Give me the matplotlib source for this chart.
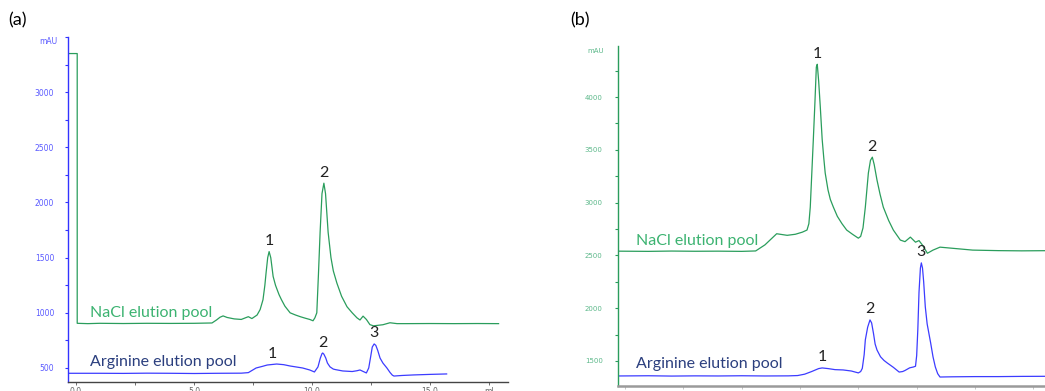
import matplotlib
matplotlib.use("Agg")
import matplotlib.pyplot as plt
from matplotlib.ticker import MultipleLocator, FixedLocator

# ---------------- data: panel (a) ----------------
a_nacl_ml = [-0.34, 0.05, 0.05, 0.5, 1.0, 2.0, 3.0, 4.0, 5.0, 5.76, 5.95, 6.1, 6.23, 6.4, 6.7,
             7.0, 7.3, 7.45, 7.67, 7.8, 7.92, 8.0, 8.05, 8.12, 8.18, 8.25, 8.35, 8.45, 8.52,
             8.6, 8.7, 8.85, 9.07, 9.3, 9.5, 9.7, 9.9, 10.04, 10.12, 10.2, 10.27, 10.34,
             10.42, 10.5, 10.57, 10.68, 10.8, 10.9, 11.05, 11.25, 11.48, 11.7, 11.9, 12.03,
             12.16, 12.3, 12.45, 12.6, 13.0, 13.3, 13.6, 14.0, 15.0, 16.0, 17.0, 17.9]
a_nacl_mau = [3350, 3350, 905, 902, 905, 903, 905, 904, 905, 908, 935, 960, 972, 958, 945,
              940, 965, 948, 980, 1030, 1118, 1250, 1360, 1500, 1555, 1500, 1330, 1250, 1210,
              1165, 1120, 1060, 1000, 980, 965, 952, 940, 928, 955, 1000, 1350, 1730,
              2080, 2175, 2080, 1730, 1500, 1380, 1270, 1150, 1055, 1000, 955, 935,
              970, 940, 893, 882, 892, 910, 902, 902, 903, 902, 903, 902]

a_arg_ml = [-0.34, 1.0, 2.0, 3.0, 4.0, 5.0, 6.0, 7.0, 7.3, 7.63, 7.9, 8.1, 8.5, 8.8, 9.07,
            9.6, 9.9, 10.1, 10.25, 10.35, 10.42, 10.45, 10.5, 10.58, 10.65, 10.76, 10.9,
            11.0, 11.3, 11.7, 11.9, 12.03, 12.15, 12.3, 12.4, 12.48, 12.55, 12.63, 12.7,
            12.78, 12.88, 13.0, 13.17, 13.3, 13.4, 13.47, 13.8, 14.3, 15.0, 15.7]
a_arg_mau = [452, 452, 451, 453, 452, 450, 452, 453, 458, 500, 515, 527, 536, 530, 518,
             500, 482, 464, 510, 590, 630, 636, 625, 590, 545, 510, 490,
             485, 473, 468, 475, 482, 470, 455, 500, 600, 690, 718, 705,
             660, 590, 545, 500, 460, 435, 427, 432, 437, 442, 446]

# ---------------- data: panel (b) ----------------
b_nacl_ml = [-0.3, 1.0, 2.0, 3.0, 4.0, 5.0, 5.6, 6.0, 6.5, 6.95, 7.3, 7.6, 7.8, 7.88, 7.94,
             8.0, 8.07, 8.14, 8.2, 8.24, 8.3, 8.37, 8.45, 8.52, 8.58, 8.7, 8.8, 8.93, 9.1,
             9.3, 9.5, 9.75, 10.0, 10.1, 10.2, 10.3, 10.43, 10.52, 10.6, 10.68, 10.8, 10.93,
             11.07, 11.3, 11.5, 11.8, 12.0, 12.23, 12.45, 12.6, 12.75, 12.96, 13.2, 13.5,
             13.95, 14.9, 16.0, 17.0, 18.3]
b_nacl_mau = [2540, 2538, 2541, 2539, 2540, 2538, 2542, 2600, 2705, 2690, 2700, 2720, 2740, 2800, 2957,
              3250, 3592, 3950, 4284, 4310, 4150, 3905, 3600, 3420, 3280, 3120, 3030, 2957, 2870,
              2800, 2740, 2700, 2663, 2680, 2760, 2957, 3280, 3400, 3430, 3360, 3213, 3080,
              2957, 2830, 2740, 2645, 2630, 2673, 2625, 2640, 2597, 2520, 2550, 2578,
              2569, 2550, 2545, 2543, 2545]

b_arg_ml = [-0.3, 1.0, 2.0, 3.0, 4.0, 5.0, 6.0, 7.0, 7.4, 7.7, 8.0, 8.3, 8.45, 8.7, 9.0,
            9.35, 9.7, 10.0, 10.1, 10.17, 10.25, 10.3, 10.4, 10.5, 10.57, 10.65, 10.72,
            10.8, 10.95, 11.1, 11.24, 11.5, 11.75, 11.9, 12.0, 12.2, 12.36, 12.45, 12.5,
            12.55, 12.6, 12.66, 12.7, 12.75, 12.8, 12.87, 12.95, 13.1, 13.2, 13.3, 13.4,
            13.5, 14.0, 15.0, 16.0, 17.0, 18.3]
b_arg_mau = [1358, 1360, 1357, 1359, 1358, 1360, 1358, 1359, 1362, 1375, 1400, 1428, 1434, 1428, 1418,
             1415, 1405, 1387, 1400, 1430, 1560, 1700, 1820, 1889, 1860, 1760, 1660,
             1604, 1540, 1505, 1481, 1440, 1395, 1400, 1410, 1435, 1443, 1450, 1550,
             1800, 2150, 2380, 2429, 2380, 2250, 2012, 1850, 1670, 1540, 1443, 1380,
             1348, 1350, 1352, 1352, 1354, 1355]

# peak annotations: (ml, mAU of the peak top, label)
a_nacl_peaks = [(8.18, 1555, "1"), (10.5, 2175, "2")]
a_arg_peaks = [(8.3, 536, "1"), (10.45, 636, "2"), (12.63, 718, "3")]
b_nacl_peaks = [(8.24, 4310, "1"), (10.6, 3430, "2")]
b_arg_peaks = [(8.45, 1434, "1"), (10.5, 1889, "2"), (12.7, 2429, "3")]

GREEN = "#2a9d5c"
BLUE = "#3c3cff"
LABEL_GREEN = "#3cb371"
NAVY = "#2b3f7e"
TEXT_FONT = ["Lato", "DejaVu Sans"]

fig = plt.figure(figsize=(10.45, 3.91), dpi=100)

# ---------------- panel (a) ----------------
ax1 = fig.add_axes([68 / 1045, 9 / 391, (508 - 68) / 1045, (382 - 37) / 391])
ax1.plot(a_nacl_ml, a_nacl_mau, color=GREEN, lw=0.9)
ax1.plot(a_arg_ml, a_arg_mau, color=BLUE, lw=0.9)
ax1.set_xlim(-0.34, 18.3)
ax1.set_ylim(373, 3500)
for s in ("top", "right"):
    ax1.spines[s].set_visible(False)
ax1.spines["left"].set_color("#3333ff")
ax1.spines["left"].set_linewidth(1.0)
ax1.spines["bottom"].set_color("#444444")
ax1.spines["bottom"].set_linewidth(1.0)
ax1.set_yticks([500, 1000, 1500, 2000, 2500, 3000, 3500])
ax1.set_yticklabels(["500", "1000", "1500", "2000", "2500", "3000", ""])
ax1.yaxis.set_minor_locator(MultipleLocator(250))
ax1.set_xticks([0, 5, 10, 15, 17.5])
ax1.set_xticklabels(["0.0", "5.0", "10.0", "15.0", "ml"])
ax1.xaxis.set_minor_locator(FixedLocator([2.5, 7.5, 12.5]))
ax1.tick_params(axis="y", which="both", colors="#3333ff", labelcolor="#5a5aff",
                labelsize=5.5, length=2, width=0.8, pad=8)
ax1.tick_params(axis="x", which="both", colors="#555555", labelcolor="#666666",
                labelsize=5.5, length=2, width=0.6, pad=1.5)
ax1.text(-0.8, 3460, "mAU", color="#5a5aff", fontsize=5.5, ha="right", va="center")

ax1.text(0.6, 1000, "NaCl elution pool", color=LABEL_GREEN, fontsize=11.5,
         family=TEXT_FONT, ha="left", va="center")
ax1.text(0.6, 555, "Arginine elution pool", color=NAVY, fontsize=11.5,
         family=TEXT_FONT, ha="left", va="center")
for x, y, t in a_nacl_peaks + a_arg_peaks:
    ax1.annotate(t, (x, y), xytext=(0, 2.5), textcoords="offset points", ha="center",
                 va="bottom", fontsize=11.5, color="#222222", family=TEXT_FONT)

# ---------------- panel (b) ----------------
ax2 = fig.add_axes([618 / 1045, 5 / 391, (1045 - 618) / 1045, (386 - 46) / 391])
ax2.plot(b_nacl_ml, b_nacl_mau, color=GREEN, lw=0.9)
ax2.plot(b_arg_ml, b_arg_mau, color=BLUE, lw=0.9)
ax2.set_xlim(-0.3, 18.0)
ax2.set_ylim(1263, 4483)
for s in ("top", "right"):
    ax2.spines[s].set_visible(False)
ax2.spines["left"].set_color(GREEN)
ax2.spines["left"].set_linewidth(1.0)
ax2.spines["bottom"].set_color("#9a9a9a")
ax2.spines["bottom"].set_linewidth(1.8)
ax2.set_yticks([1500, 2000, 2500, 3000, 3500, 4000])
ax2.set_yticklabels(["1500", "2000", "2500", "3000", "3500", "4000"])
ax2.yaxis.set_minor_locator(MultipleLocator(250))
ax2.set_xticks([0, 5, 10, 15])
ax2.set_xticklabels(["0.0", "5.0", "10.0", "15.0"])
ax2.xaxis.set_minor_locator(FixedLocator([2.5, 7.5, 12.5, 17.5]))
ax2.tick_params(axis="y", which="both", colors=GREEN, labelcolor="#5cb88a",
                labelsize=5, length=2, width=0.8, pad=9)
ax2.tick_params(axis="x", which="both", colors="#bbbbbb", labelcolor="#aaaaaa",
                labelsize=5, length=2, width=0.6, pad=1.5)
ax2.text(-0.9, 4440, "mAU", color="#5cb88a", fontsize=5, ha="right", va="center")

ax2.text(0.45, 2640, "NaCl elution pool", color=LABEL_GREEN, fontsize=11.5,
         family=TEXT_FONT, ha="left", va="center")
ax2.text(0.45, 1470, "Arginine elution pool", color=NAVY, fontsize=11.5,
         family=TEXT_FONT, ha="left", va="center")
for x, y, t in b_nacl_peaks + b_arg_peaks:
    ax2.annotate(t, (x, y), xytext=(0, 2.5), textcoords="offset points", ha="center",
                 va="bottom", fontsize=11.5, color="#222222", family=TEXT_FONT)

fig.text(8 / 1045, 1 - 20 / 391, "(a)", fontsize=13, family=TEXT_FONT, ha="left", va="center")
fig.text(570 / 1045, 1 - 20 / 391, "(b)", fontsize=13, family=TEXT_FONT, ha="left", va="center")

fig.savefig("out.png", dpi=100)
